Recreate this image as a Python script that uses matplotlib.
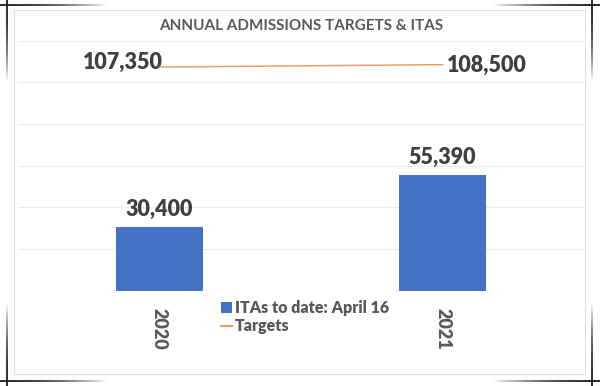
import numpy as np
import matplotlib
matplotlib.use('Agg')
import matplotlib.pyplot as plt
from matplotlib.patches import Patch, Rectangle
from matplotlib.lines import Line2D
from matplotlib.collections import LineCollection

plt.rcParams['font.family'] = ['Lato', 'DejaVu Sans']

years = ['2020', '2021']
itas = [30400, 55390]
targets = [107350, 108500]
title = 'ANNUAL ADMISSIONS TARGETS & ITAS'
bar_label = 'ITAs to date: April 16'
line_label = 'Targets'

W, H = 600, 386
fig = plt.figure(figsize=(6, 3.86), dpi=100)
fig.patch.set_facecolor('white')


def px(x, y):
    # pixel coords (top-left origin) -> figure fraction
    return x / W, 1 - y / H


# chart area border
x0, y0 = px(14, 374)
x1, y1 = px(585, 10)
fig.patches.append(Rectangle((x0, y0), x1 - x0, y1 - y0, transform=fig.transFigure,
                             fill=False, edgecolor='#e0e0e0', lw=0.8))


def fade_line(xa, ya, xb, yb, n=40):
    # dark at (xa, ya) fading out towards (xb, yb)
    t = np.linspace(0, 1, n + 1)
    xs = xa + (xb - xa) * t
    ys = ya + (yb - ya) * t
    segs = []
    cols = []
    for i in range(n):
        a = px(xs[i], ys[i])
        b = px(xs[i + 1], ys[i + 1])
        segs.append([a, b])
        alpha = max(0.0, 1 - (t[i] / 0.85) ** 2)
        cols.append((0.1, 0.1, 0.1, alpha))
    lc = LineCollection(segs, colors=cols, linewidths=1.3, transform=fig.transFigure)
    fig.add_artist(lc)


# picture frame corner marks
fade_line(0, 5, 125, 5)
fade_line(7, 0, 7, 95)
fade_line(600, 5, 475, 5)
fade_line(592, 0, 592, 95)
fade_line(0, 381, 125, 381)
fade_line(7, 386, 7, 290)
fade_line(600, 381, 475, 381)
fade_line(592, 386, 592, 290)

# plot area
left, bottom = px(18, 290.7)
right, top = px(584, 40.7)
ax = fig.add_axes([left, bottom, right - left, top - bottom])
ax.set_facecolor('none')

x = np.arange(len(years))
ax.bar(x, itas, width=0.31, color='#4472C4', zorder=3)
ax.plot(x, targets, color='#EE9D62', lw=1.1, zorder=4)

ax.set_xlim(-0.5, 1.5)
ax.set_ylim(0, 120000)
ax.set_yticks(np.arange(0, 120001, 20000))
ax.grid(axis='y', color='#ebebeb', lw=0.8, zorder=0)
ax.set_axisbelow(True)
for s in ax.spines.values():
    s.set_visible(False)
ax.tick_params(axis='y', left=False, labelleft=False)
ax.tick_params(axis='x', bottom=False, pad=9)
ax.set_xticks(x)
ax.set_xticklabels(years, rotation=270, fontsize=13, fontweight=800, color='#595959')

# data labels
for xi, v in zip(x, itas):
    ax.annotate(f'{v:,}', (xi, v), xytext=(0, 7), textcoords='offset pixels',
                ha='center', va='bottom', fontsize=15.5, fontweight=800, color='#404040')
ax.annotate(f'{targets[0]:,}', (x[0], targets[0]), xytext=(3, 5), textcoords='offset pixels',
            ha='right', va='center', fontsize=15.5, fontweight=800, color='#404040')
ax.annotate(f'{targets[1]:,}', (x[1], targets[1]), xytext=(4, -1), textcoords='offset pixels',
            ha='left', va='center', fontsize=15.5, fontweight=800, color='#404040')

# title
tx, ty = px(301, 26)
fig.text(tx, ty, title, ha='center', va='center', fontsize=11, fontweight=700, color='#595959')

# legend
handles = [Patch(facecolor='#4472C4', edgecolor='none'),
           Line2D([0], [0], color='#EE9D62', lw=1.5)]
lx, ly = px(221, 300)
fig.legend(handles, [bar_label, line_label], loc='upper left', bbox_to_anchor=(lx, ly),
           frameon=False, handlelength=0.7, handleheight=0.7, handletextpad=0.15,
           labelspacing=0.15, borderpad=0, borderaxespad=0,
           prop={'size': 11.5, 'weight': 800}, labelcolor='#595959')

fig.savefig('out.png', dpi=100, facecolor='white')
